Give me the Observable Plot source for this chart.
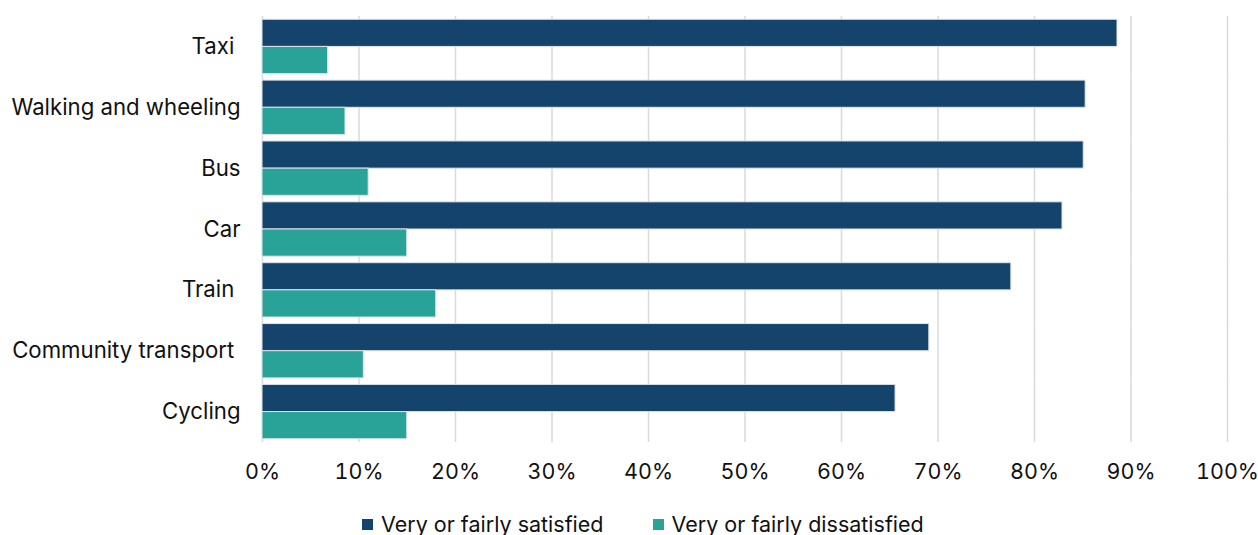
<!DOCTYPE html>
<html>
<head>
<meta charset="utf-8">
<script src="https://cdn.jsdelivr.net/npm/d3@7"></script>
<script src="https://cdn.jsdelivr.net/npm/@observablehq/plot@0.6"></script>
<style>
  html, body { margin: 0; padding: 0; background: #fff; }
  body { width: 1258px; height: 535px; overflow: hidden; font-family: Inter, "Noto Sans", sans-serif; }
  svg text { white-space: pre; }
  #legend { display: flex; justify-content: flex-start; align-items: center; height: 38px; font-size: 21.5px; color: #111; padding-left: 362px; }
  .item { display: flex; align-items: center; }
  .sw { width: 11px; height: 11px; margin-right: 8px; display: inline-block; }
</style>
</head>
<body>
<div id="chart"></div>
<div id="legend"></div>
<script>
const categories = ["Taxi ", "Walking and wheeling", "Bus", "Car", "Train ", "Community transport ", "Cycling"];
const satisfied = [88.6, 85.3, 85.1, 82.9, 77.6, 69.1, 65.6];
const dissatisfied = [6.8, 8.6, 11.0, 15.0, 18.0, 10.5, 15.0];
const seriesNames = ["Very or fairly satisfied", "Very or fairly dissatisfied"];
const seriesColors = ["#14446c", "#29a398"];
const xTicks = [0, 10, 20, 30, 40, 50, 60, 70, 80, 90, 100];

const data = [];
categories.forEach((c, i) => {
  data.push({category: c, series: seriesNames[0], value: satisfied[i]});
  data.push({category: c, series: seriesNames[1], value: dissatisfied[i]});
});

const chart = Plot.plot({
  width: 1258,
  height: 505,
  marginLeft: 262,
  marginRight: 31,
  marginTop: 16,
  marginBottom: 63,
  style: {fontFamily: "Inter, 'Noto Sans', sans-serif", fontSize: "21.5px", color: "#111"},
  x: {domain: [0, 100], ticks: xTicks, tickFormat: d => d + "%", tickSize: 0, tickPadding: 21, label: null},
  fy: {domain: categories, padding: 0, round: false, label: null, tickSize: 0, tickPadding: 22},
  y: {domain: seriesNames, axis: null, paddingInner: 0, paddingOuter: 0.12, round: false},
  color: {domain: seriesNames, range: seriesColors},
  facet: {data: data, y: "category"},
  marks: [
    Plot.gridX(xTicks, {stroke: "#d9d9d9", strokeOpacity: 1, strokeWidth: 1.5}),
    Plot.barX(data, {x: "value", y: "series", fill: "series", stroke: "#dde3ea", strokeWidth: 1, inset: 0})
  ]
});
chart.querySelectorAll("[aria-label='x-axis tick label'] text").forEach(t => t.setAttribute("fill", "#111"));
chart.querySelectorAll("[aria-label='fy-axis tick label']").forEach(g => { g.setAttribute("font-size", "22.2px"); g.querySelectorAll("text").forEach(t => t.setAttribute("fill", "#111")); });
document.getElementById("chart").appendChild(chart);

const legend = document.getElementById("legend");
seriesNames.forEach((s, i) => {
  const item = document.createElement("div");
  item.className = "item";
  if (i > 0) item.style.marginLeft = "49px";
  const sw = document.createElement("span");
  sw.className = "sw";
  sw.style.background = seriesColors[i];
  item.appendChild(sw);
  item.appendChild(document.createTextNode(s));
  legend.appendChild(item);
});
</script>
</body>
</html>
